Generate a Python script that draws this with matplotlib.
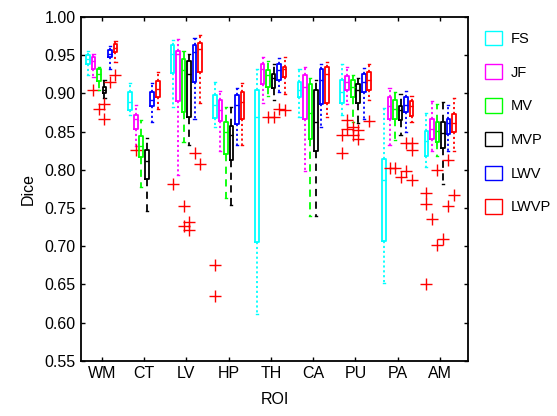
import matplotlib
matplotlib.use("Agg")
import matplotlib.pyplot as plt
from matplotlib.patches import Patch

plt.rcParams["font.family"] = ["Liberation Sans", "DejaVu Sans"]

rois = ["WM", "CT", "LV", "HP", "TH", "CA", "PU", "PA", "AM"]
methods = ["FS", "JF", "MV", "MVP", "LWV", "LWVP"]
colors = ["#00FFFF", "#FF00FF", "#00FF00", "#000000", "#0000FF", "#FF0000"]

# per method: upper whisker, q3, median, q1, lower whisker, outliers (one entry per ROI)
fs_hi = [0.956, 0.913, 0.970, 0.915, 0.932, 0.932, 0.938, 0.881, 0.874]
fs_q3 = [0.950, 0.902, 0.963, 0.898, 0.905, 0.915, 0.918, 0.814, 0.851]
fs_med = [0.945, 0.889, 0.952, 0.885, 0.869, 0.904, 0.902, 0.786, 0.838]
fs_q1 = [0.938, 0.878, 0.927, 0.868, 0.705, 0.895, 0.888, 0.707, 0.818]
fs_lo = [0.924, 0.872, 0.882, 0.856, 0.611, 0.869, 0.872, 0.652, 0.804]
fs_out = [[], [], [0.782], [0.675, 0.635], [], [], [0.846, 0.822], [], [0.769, 0.755, 0.650]]

jf_hi = [0.952, 0.885, 0.971, 0.903, 0.947, 0.935, 0.935, 0.907, 0.890]
jf_q3 = [0.947, 0.872, 0.956, 0.891, 0.938, 0.924, 0.923, 0.895, 0.867]
jf_med = [0.943, 0.867, 0.952, 0.878, 0.932, 0.909, 0.915, 0.883, 0.854]
jf_q1 = [0.932, 0.854, 0.890, 0.864, 0.912, 0.866, 0.905, 0.866, 0.840]
jf_lo = [0.921, 0.831, 0.793, 0.824, 0.888, 0.799, 0.886, 0.832, 0.824]
jf_out = [[0.905], [0.826], [], [], [], [], [0.865, 0.853], [0.802], [0.735]]

mv_hi = [0.935, 0.865, 0.955, 0.882, 0.942, 0.920, 0.924, 0.902, 0.886]
mv_q3 = [0.932, 0.844, 0.945, 0.862, 0.930, 0.912, 0.917, 0.891, 0.862]
mv_med = [0.926, 0.831, 0.931, 0.850, 0.924, 0.874, 0.909, 0.880, 0.851]
mv_q1 = [0.916, 0.817, 0.876, 0.820, 0.908, 0.840, 0.895, 0.867, 0.836]
mv_lo = [0.904, 0.778, 0.837, 0.763, 0.896, 0.739, 0.862, 0.839, 0.818]
mv_out = [[0.879], [], [0.753, 0.726], [], [0.869], [], [0.856, 0.846], [0.802], [0.800, 0.701]]

mvp_hi = [0.917, 0.842, 0.952, 0.882, 0.939, 0.917, 0.920, 0.899, 0.889]
mvp_q3 = [0.909, 0.826, 0.943, 0.857, 0.926, 0.905, 0.912, 0.883, 0.862]
mvp_med = [0.904, 0.812, 0.926, 0.846, 0.920, 0.863, 0.904, 0.878, 0.848]
mvp_q1 = [0.900, 0.788, 0.869, 0.813, 0.907, 0.825, 0.888, 0.865, 0.828]
mvp_lo = [0.894, 0.746, 0.832, 0.754, 0.892, 0.739, 0.861, 0.846, 0.782]
mvp_out = [[0.886, 0.866], [], [0.732, 0.721], [], [0.869], [], [0.852, 0.840], [0.791], [0.709]]

lwv_hi = [0.962, 0.913, 0.973, 0.907, 0.946, 0.938, 0.933, 0.903, 0.885]
lwv_q3 = [0.957, 0.902, 0.963, 0.898, 0.938, 0.932, 0.926, 0.895, 0.867]
lwv_med = [0.952, 0.891, 0.954, 0.885, 0.931, 0.918, 0.915, 0.885, 0.861]
lwv_q1 = [0.947, 0.883, 0.915, 0.860, 0.918, 0.886, 0.902, 0.875, 0.847]
lwv_lo = [0.932, 0.863, 0.866, 0.832, 0.902, 0.856, 0.866, 0.850, 0.824]
lwv_out = [[0.915], [], [0.822], [], [0.880], [], [], [0.835, 0.798], [0.813, 0.752]]

lwvp_hi = [0.969, 0.928, 0.976, 0.913, 0.948, 0.941, 0.938, 0.897, 0.894]
lwvp_q3 = [0.965, 0.916, 0.966, 0.902, 0.935, 0.934, 0.928, 0.890, 0.873]
lwvp_med = [0.960, 0.906, 0.958, 0.889, 0.932, 0.926, 0.918, 0.883, 0.861]
lwvp_q1 = [0.954, 0.895, 0.928, 0.867, 0.921, 0.888, 0.904, 0.870, 0.849]
lwvp_lo = [0.941, 0.879, 0.887, 0.832, 0.899, 0.869, 0.892, 0.863, 0.824]
lwvp_out = [[0.924], [], [0.808], [], [0.878], [], [0.864], [0.835, 0.826, 0.786], [0.767]]

series = [
    (fs_hi, fs_q3, fs_med, fs_q1, fs_lo, fs_out),
    (jf_hi, jf_q3, jf_med, jf_q1, jf_lo, jf_out),
    (mv_hi, mv_q3, mv_med, mv_q1, mv_lo, mv_out),
    (mvp_hi, mvp_q3, mvp_med, mvp_q1, mvp_lo, mvp_out),
    (lwv_hi, lwv_q3, lwv_med, lwv_q1, lwv_lo, lwv_out),
    (lwvp_hi, lwvp_q3, lwvp_med, lwvp_q1, lwvp_lo, lwvp_out),
]

fig = plt.figure(figsize=(5.57, 4.16), dpi=100)
ax = fig.add_axes([0.1454, 0.1329, 0.6948, 0.8262])

step = 0.13
for k, (hi, q3, med, q1, lo, out) in enumerate(series):
    stats = [dict(whishi=hi[i], q3=q3[i], med=med[i], q1=q1[i], whislo=lo[i], fliers=out[i])
             for i in range(len(rois))]
    pos = [i + 1 + (k - 2.5) * step for i in range(len(rois))]
    c = colors[k]
    ls = (0, (4, 3)) if methods[k] in ("MV", "MVP") else (0, (1.2, 1.5))
    ax.bxp(stats, positions=pos, widths=0.085, capwidths=0.05, manage_ticks=False,
           boxprops=dict(color=c, linewidth=1.3),
           medianprops=dict(color=c, linewidth=1.0),
           whiskerprops=dict(color=c, linewidth=1.3, linestyle=ls),
           capprops=dict(color=c, linewidth=1.0),
           flierprops=dict(marker="+", markeredgecolor="#FF0000", markersize=9,
                           markeredgewidth=1.0, linestyle="none"))

ax.set_xlim(0.51, 9.66)
ax.set_ylim(0.55, 1.0)
ax.set_xticks(range(1, len(rois) + 1))
ax.set_xticklabels(rois)
ax.set_yticks([0.55 + 0.05 * i for i in range(10)])
ax.set_yticklabels([f"{0.55 + 0.05 * i:.2f}" for i in range(10)])
ax.tick_params(direction="in", length=3, width=1.0, labelsize=11.5,
               top=True, right=True, pad=4)
for s in ax.spines.values():
    s.set_linewidth(1.3)
ax.set_xlabel("ROI", fontsize=11.5, labelpad=8)
ax.set_ylabel("Dice", fontsize=11.5, labelpad=6)

handles = [Patch(facecolor="none", edgecolor=c, linewidth=1.0, label=m)
           for m, c in zip(methods, colors)]
fig.legend(handles=handles, loc="upper left", bbox_to_anchor=(0.86, 0.94),
           frameon=False, fontsize=10.5, handlelength=1.15, handleheight=1.15,
           labelspacing=1.27, handletextpad=0.6, borderaxespad=0)

fig.savefig("out.png", dpi=100)
